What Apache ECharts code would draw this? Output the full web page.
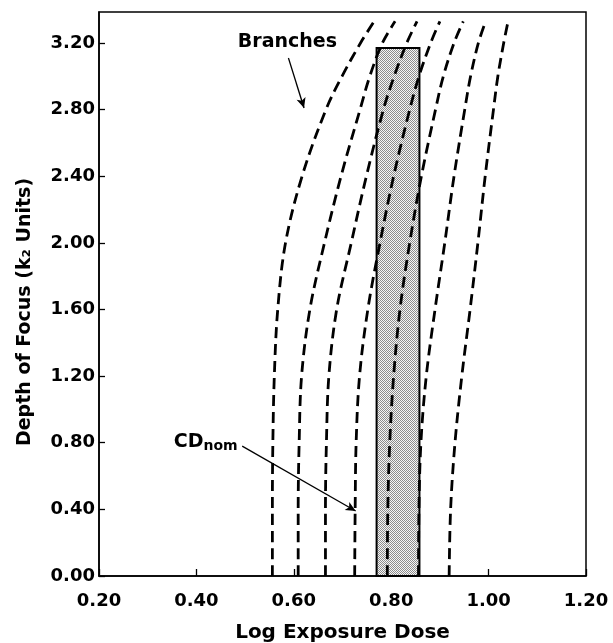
<!DOCTYPE html>
<html lang="en">
<head>
    <meta charset="utf-8" />
    <title>Depth of Focus vs Log Exposure Dose</title>
    <script src="https://cdn.jsdelivr.net/npm/echarts@6/dist/echarts.min.js"></script>
    <style>
        body {
            margin: 0;
            padding: 0;
            background: #fff;
        }

        #main {
            width: 613px;
            height: 643px;
        }
    </style>
</head>
<body>
<div id="main"></div>
<script type="text/javascript">
    const depthLevels = [0, 0.4, 0.8, 1.2, 1.6, 2.0, 2.4, 2.8, 3.0, 3.2, 3.33];

    // Log exposure dose (x) of each dashed branch at those depths
    const branchA = [0.556, 0.556, 0.557, 0.560, 0.567, 0.583, 0.617, 0.666, 0.699, 0.737, 0.765];
    const branchB = [0.609, 0.609, 0.611, 0.616, 0.633, 0.663, 0.697, 0.736, 0.756, 0.782, 0.808];
    const branchC = [0.665, 0.665, 0.667, 0.672, 0.688, 0.718, 0.749, 0.784, 0.806, 0.832, 0.853];
    const branchD = [0.725, 0.726, 0.728, 0.735, 0.752, 0.777, 0.805, 0.838, 0.857, 0.881, 0.900];
    const branchE = [0.792, 0.793, 0.797, 0.805, 0.818, 0.838, 0.862, 0.891, 0.907, 0.929, 0.948];
    const branchF = [0.856, 0.857, 0.861, 0.872, 0.890, 0.910, 0.929, 0.951, 0.963, 0.979, 0.994];
    const branchG = [0.919, 0.922, 0.931, 0.945, 0.962, 0.978, 0.993, 1.010, 1.019, 1.031, 1.040];
    const branches = [branchA, branchB, branchC, branchD, branchE, branchF, branchG];

    // Shaded process window: [dose from, dose to, depth top]
    const windowBox = [0.770, 0.858, 3.17];

    // Axis settings
    const xTicks = [0.2, 1.2, 0.2];   // min, max, interval
    const yTicks = [0, 3.386, 0.4];

    // Annotation texts and arrows (data coords)
    const labels = [
        [0.588, 3.20, 'Branches'],
        [0.420, 0.80, 'CD_nom']
    ];
    const arrows = [
        [[0.589, 3.11], [0.621, 2.81]],
        [[0.494, 0.78], [0.727, 0.39]]
    ];

    const FONT = 'DejaVu Sans';

    // stippled fill for the shaded window
    const stipple = document.createElement('canvas');
    stipple.width = 2;
    stipple.height = 2;
    const sctx = stipple.getContext('2d');
    sctx.fillStyle = '#f6f6f6';
    sctx.fillRect(0, 0, 2, 2);
    sctx.fillStyle = '#8c8c8c';
    sctx.fillRect(0, 0, 1, 1);
    sctx.fillRect(1, 1, 1, 1);

    var myChart = echarts.init(document.getElementById('main'));

    const branchSeries = branches.map(function (xs, i) {
        return {
            name: 'branch' + i,
            type: 'line',
            data: xs.map(function (x, j) { return [x, depthLevels[j]]; }),
            smooth: 0.35,
            showSymbol: false,
            z: 3,
            lineStyle: {
                color: '#000',
                width: 2.8,
                type: [11, 6]
            }
        };
    });

    var option = {
        animation: false,
        backgroundColor: '#fff',
        grid: {
            left: 99,
            right: 27,
            top: 12,
            bottom: 67,
            outerBoundsMode: 'none',
            containLabel: false,
            show: true,
            borderColor: '#000',
            borderWidth: 1.5
        },
        xAxis: {
            type: 'value',
            min: xTicks[0],
            max: xTicks[1],
            interval: xTicks[2],
            name: 'Log Exposure Dose',
            nameLocation: 'middle',
            nameGap: 47,
            nameTextStyle: {
                color: '#000',
                fontFamily: FONT,
                fontWeight: 'bold',
                fontSize: 20
            },
            axisLine: { show: true, lineStyle: { color: '#000', width: 1.5 } },
            axisTick: { show: true, inside: true, length: 7, lineStyle: { color: '#000', width: 1.3 } },
            splitLine: { show: false },
            axisLabel: {
                color: '#000',
                fontFamily: FONT,
                fontWeight: 'bold',
                fontSize: 18,
                margin: 16,
                formatter: function (v) { return v.toFixed(2); }
            }
        },
        yAxis: {
            type: 'value',
            min: yTicks[0],
            max: yTicks[1],
            interval: yTicks[2],
            name: 'Depth of Focus (k\u2082 Units)',
            nameLocation: 'middle',
            nameGap: 64,
            nameTextStyle: {
                color: '#000',
                fontFamily: FONT,
                fontWeight: 'bold',
                fontSize: 19,
                padding: [0, 36, 0, 0]
            },
            axisLine: { show: true, lineStyle: { color: '#000', width: 1.5 } },
            axisTick: { show: true, inside: true, length: 6, lineStyle: { color: '#000', width: 1.3 } },
            splitLine: { show: false },
            axisLabel: {
                color: '#000',
                fontFamily: FONT,
                fontWeight: 'bold',
                fontSize: 18,
                margin: 4,
                showMaxLabel: false,
                formatter: function (v) {
                    return Math.abs(v / 0.4 - Math.round(v / 0.4)) < 1e-6 ? v.toFixed(2) : '';
                }
            }
        },
        series: [
            {
                name: 'window',
                type: 'custom',
                z: 2,
                data: [windowBox],
                renderItem: function (params, api) {
                    const p0 = api.coord([api.value(0), api.value(2)]);
                    const p1 = api.coord([api.value(1), 0]);
                    return {
                        type: 'rect',
                        shape: { x: p0[0], y: p0[1], width: p1[0] - p0[0], height: p1[1] - p0[1] },
                        style: {
                            fill: { image: stipple, repeat: 'repeat' },
                            stroke: '#000',
                            lineWidth: 2
                        }
                    };
                }
            }
        ].concat(branchSeries).concat([
            {
                name: 'notes',
                type: 'scatter',
                symbolSize: 1,
                z: 5,
                itemStyle: { opacity: 0 },
                data: labels.map(function (l) { return { value: [l[0], l[1]], note: l[2] }; }),
                label: {
                    show: true,
                    position: [0, 0],
                    align: 'center',
                    verticalAlign: 'middle',
                    color: '#000',
                    opacity: 1,
                    fontFamily: FONT,
                    fontWeight: 'bold',
                    fontSize: 19,
                    formatter: function (p) {
                        if (p.data.note === 'CD_nom') return '{a|CD}{s|nom}';
                        return '{a|' + p.data.note + '}';
                    },
                    rich: {
                        a: { fontFamily: FONT, fontWeight: 'bold', fontSize: 19, color: '#000' },
                        s: { fontFamily: FONT, fontWeight: 'bold', fontSize: 14, color: '#000', padding: [8, 0, 0, 0] }
                    }
                },
                markLine: {
                    silent: true,
                    symbol: ['none', 'arrow'],
                    symbolSize: [7, 10],
                    label: { show: false },
                    lineStyle: { color: '#000', width: 1.3, type: 'solid', opacity: 1 },
                    data: arrows.map(function (a) {
                        return [{ coord: a[0] }, { coord: a[1] }];
                    })
                }
            }
        ])
    };

    myChart.setOption(option);
</script>
</body>
</html>
